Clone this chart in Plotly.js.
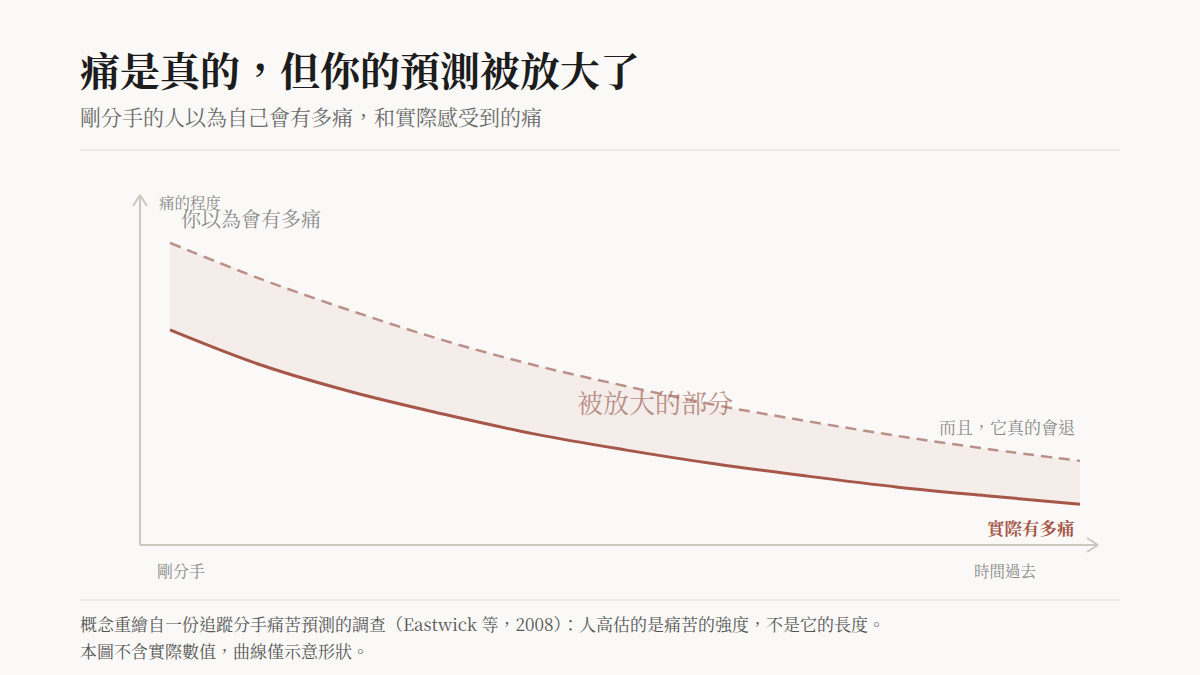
<!DOCTYPE html>
<html>
<head>
<meta charset="utf-8">
<script src="https://cdn.plot.ly/plotly-3.0.1.min.js"></script>
<style>
  html, body { margin: 0; padding: 0; background: #faf9f7; }
  #chart { width: 1200px; height: 675px; }
</style>
</head>
<body>
<div id="chart"></div>
<script>
// time since the breakup (arbitrary units) and pain level (0-100, shape only)
var timeSteps = [0, 1, 2, 3, 4, 5, 6, 7, 8, 9, 10];
var expectedPain = [85.1, 74.9, 65.9, 57.7, 50.7, 44.8, 39.4, 34.9, 30.7, 27.0, 23.7];
var actualPain = [60.6, 50.7, 43.1, 36.9, 31.3, 26.8, 22.8, 19.4, 16.3, 13.8, 11.5];

var titleText = '痛是真的，但你的預測被放大了';
var subtitleText = '剛分手的人以為自己會有多痛，和實際感受到的痛';
var yAxisLabel = '痛的程度';
var xStartLabel = '剛分手';
var xEndLabel = '時間過去';
var expectedLabel = '你以為會有多痛';
var gapLabel = '被放大的部分';
var fadeLabel = '而且，它真的會退';
var actualLabel = '實際有多痛';
var footnotes = [
  '概念重繪自一份追蹤分手痛苦預測的調查（Eastwick 等，2008）：人高估的是痛苦的強度，不是它的長度。',
  '本圖不含實際數值，曲線僅示意形狀。'
];

var serif = '"Noto Serif CJK TC", "Noto Serif", "DejaVu Serif", serif';

// plot area in page pixels
var L = 140, R = 1100, T = 190, B = 545;
function px(x) { return (x - L) / (R - L); }
function py(y) { return (B - y) / (B - T); }

var rose = '#a65749';
var roseLight = '#bb9089';
var axisCol = '#cdc8bf';
var grey = '#8a8a8a';

var data = [
  {
    x: timeSteps, y: actualPain, mode: 'lines',
    line: {color: rose, width: 3, shape: 'spline'},
    hoverinfo: 'skip', showlegend: false
  },
  {
    x: timeSteps, y: expectedPain, mode: 'lines',
    line: {color: roseLight, width: 2.5, dash: '11px,7px', shape: 'spline'},
    fill: 'tonexty', fillcolor: 'rgba(166,87,73,0.07)',
    hoverinfo: 'skip', showlegend: false
  }
];

function note(text, x, y, size, color, anchor, bold) {
  return {
    text: bold ? '<b>' + text + '</b>' : text,
    xref: 'paper', yref: 'paper', x: px(x), y: py(y),
    xanchor: anchor, yanchor: 'middle', showarrow: false,
    font: {family: serif, size: size, color: color}
  };
}

var annotations = [
  note(titleText, 78, 68, 40, '#1c1c1c', 'left', true),
  note(subtitleText, 78, 116, 21, '#6b6b6b', 'left'),
  note(yAxisLabel, 157, 202, 15.5, grey, 'left'),
  note(expectedLabel, 179, 218, 20, grey, 'left'),
  note(gapLabel, 575, 401, 26, 'rgba(166,110,100,0.75)', 'left'),
  note(fadeLabel, 1077, 426, 17, grey, 'right'),
  note(actualLabel, 1077, 527, 17.5, rose, 'right', true),
  note(xStartLabel, 155, 570, 16, grey, 'left'),
  note(xEndLabel, 1039, 570, 15.5, grey, 'right'),
  note(footnotes[0], 78, 623, 17, '#555555', 'left'),
  note(footnotes[1], 78, 650, 17, '#555555', 'left')
];

function seg(x0, y0, x1, y1, color, width) {
  return {
    type: 'line', xref: 'paper', yref: 'paper',
    x0: px(x0), y0: py(y0), x1: px(x1), y1: py(y1),
    line: {color: color, width: width}
  };
}

var shapes = [
  seg(80, 150, 1120, 150, '#e9e6e2', 1.5),
  seg(80, 600, 1120, 600, '#e9e6e2', 1.5),
  // axes with open arrowheads
  seg(140, 545, 140, 196, axisCol, 2),
  seg(133, 206, 140, 195, axisCol, 2),
  seg(147, 206, 140, 195, axisCol, 2),
  seg(140, 545, 1097, 545, axisCol, 2),
  seg(1087, 538, 1098, 545, axisCol, 2),
  seg(1087, 552, 1098, 545, axisCol, 2)
];

var layout = {
  width: 1200, height: 675,
  margin: {l: L, r: 1200 - R, t: T, b: 675 - B},
  paper_bgcolor: '#faf9f7', plot_bgcolor: '#faf9f7',
  xaxis: {range: [-0.33, 10.22], visible: false, fixedrange: true},
  yaxis: {range: [0, 100], visible: false, fixedrange: true},
  annotations: annotations,
  shapes: shapes,
  showlegend: false
};

Plotly.newPlot('chart', data, layout, {displayModeBar: false, staticPlot: true});
</script>
</body>
</html>
